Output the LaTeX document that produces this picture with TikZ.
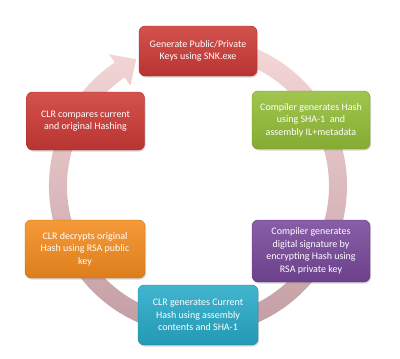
\documentclass[tikz,border=0pt]{standalone}
\usepackage{fontspec}
\setmainfont{Carlito}
\usetikzlibrary{shadows}
\definecolor{BoxRed}{RGB}{205,58,54}
\definecolor{BoxGreen}{RGB}{148,190,55}
\definecolor{BoxPurple}{RGB}{120,72,155}
\definecolor{BoxCyan}{RGB}{40,170,200}
\definecolor{BoxOrange}{RGB}{244,140,30}
\definecolor{RingTop}{RGB}{246,216,216}
\definecolor{RingBottom}{RGB}{192,154,160}

\begin{document}
\begin{tikzpicture}[
    x=1pt, y=-1pt,
    phase/.style={rounded corners=6pt, text=white, align=center,
        font=\fontsize{10}{12.5}\selectfont, minimum width=118pt, minimum height=58pt,
        inner sep=2pt, top color=#1!88!white, bottom color=#1!90!black, draw=#1!80!black,
        drop shadow={opacity=0.3, shadow xshift=1pt, shadow yshift=-1.5pt}},
]
\useasboundingbox (0,0) rectangle (400,359);

% --- anillo con flecha (sentido horario) ---
\begin{scope}[shift={(198,186)}]
\shade[top color=RingTop, bottom color=RingBottom]
    (-80:149) arc[start angle=-80, end angle=236, radius=149]
    -- (236:159) -- (244:141) -- (236:121) -- (236:131)
    arc[start angle=236, end angle=-80, radius=131] -- cycle;
\end{scope}

% --- etapas ---
\node[phase=BoxRed, minimum height=50pt] (gen) at (198,51) {Generate Public/Private\\Keys using SNK.exe};
\node[phase=BoxGreen] (hash) at (311,120) {Compiler generates Hash\\using SHA-1~~and\\assembly IL+metadata};
\node[phase=BoxPurple, minimum height=62pt] (sign) at (311,251) {Compiler generates\\digital signature by\\encrypting Hash using\\RSA private key};
\node[phase=BoxCyan, minimum width=120pt, minimum height=60pt] (cur) at (198,315) {CLR generates Current\\Hash using assembly\\contents and SHA-1};
\node[phase=BoxOrange, minimum width=120pt] (dec) at (85,249) {CLR decrypts original\\Hash using RSA public\\key};
\node[phase=BoxRed] (cmp) at (85.5,121) {CLR compares current\\and original Hashing};

\end{tikzpicture}
\end{document}
